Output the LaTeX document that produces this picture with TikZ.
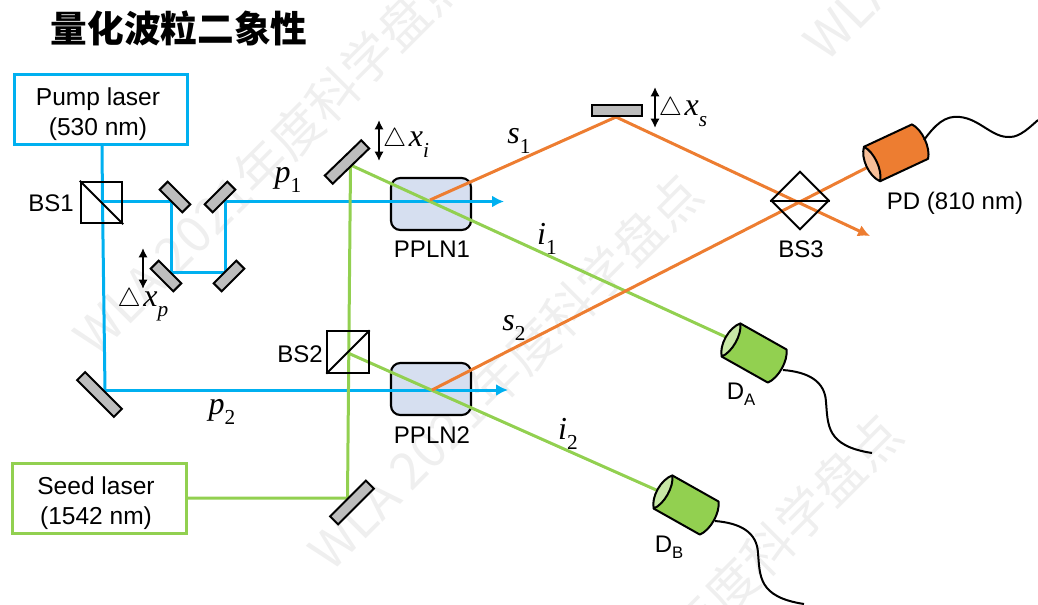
\documentclass[tikz,border=0pt]{standalone}
\usepackage{fontspec}
\usepackage{graphicx}
\setmainfont{Liberation Sans}
\newfontfamily\tnr{Liberation Serif}
\newfontfamily\cjk{Noto Sans CJK SC}
\usetikzlibrary{arrows.meta}
\definecolor{bluebeam}{HTML}{00B0F0}
\definecolor{greenbeam}{HTML}{92D050}
\definecolor{orangebeam}{HTML}{ED7D31}
\definecolor{crystal}{HTML}{D6DFF0}
\definecolor{mirrorgrey}{HTML}{BDBDBD}
\definecolor{wmgrey}{HTML}{EFEFEF}
\definecolor{greenface}{HTML}{C8E8A6}
\definecolor{orangeface}{HTML}{F6BE98}
\newcommand\symbu[2]{{\fontsize{24}{25}\selectfont\tnr\itshape #1\raisebox{-.32em}{\fontsize{16}{16}\selectfont\upshape #2}}}
\newcommand\dsym[2]{{\fontsize{17.28}{20}\selectfont\scalebox{1.13}{$\triangle$}\fontsize{24}{25}\selectfont\kern2pt\tnr\itshape #1\raisebox{-.32em}{\fontsize{16}{16}\selectfont #2}}}
\newcommand\detector[5]{% x,y,angle,fill,face
  \begin{scope}[shift={(#1,#2)},rotate=#3]
    \draw[detline,fill=#4] (0,-19) -- (53,-19) .. controls (60,-10) and (60,10) .. (53,19) -- (0,19) -- cycle;
    \draw[detline,fill=#5] (0,-19) .. controls (-8,-10) and (-8,10) .. (0,19) .. controls (7,10) and (7,-10) .. (0,-19) -- cycle;
  \end{scope}}
\tikzset{
  x=0.75pt,y=-0.75pt,
  blueline/.style={draw=bluebeam,line width=2.25pt},
  greenline/.style={draw=greenbeam,line width=2.25pt},
  orangeline/.style={draw=orangebeam,line width=2.25pt},
  laserbox/.style={draw,line width=2.4pt,minimum width=130pt,minimum height=53pt,inner sep=0pt},
  lasertext/.style={inner sep=0pt,align=center,font=\fontsize{18.4}{22.5}\selectfont},
  bsbox/.style={draw=black,line width=1.5pt,minimum size=31pt,inner sep=0pt},
  crystalbox/.style={draw=black,line width=1.6pt,fill=crystal,rounded corners=7pt,minimum width=60pt,minimum height=39pt,inner sep=0pt},
  mirror/.style={draw=black,line width=1.5pt,fill=mirrorgrey,inner sep=0pt,minimum height=8.5pt},
  lab/.style={inner sep=0pt,font=\fontsize{18}{20}\selectfont},
  mathlab/.style={inner sep=0pt},
  detline/.style={draw=black,line width=1.5pt,line join=round},
  cable/.style={draw=black,line width=1.5pt},
  shift arrow/.style={draw=black,line width=1.5pt,{Latex[length=7pt,width=7pt]}-{Latex[length=7pt,width=7pt]}},
  watermark/.style={text=wmgrey,rotate=45,inner sep=0pt,font=\cjk\fontsize{38}{40}\selectfont},
}
\begin{document}
\begin{tikzpicture}
\useasboundingbox (0,0) rectangle (1038,604);
\begin{scope}
\clip (0,0) rectangle (1038,604);
\node[watermark] (wma) at (270,157) {WLA 2021年度科学盘点};
\node[watermark] (wmb) at (505,372) {WLA 2021年度科学盘点};
\node[watermark] (wmc) at (705,612) {WLA 2021年度科学盘点};
\node[watermark] (wmd) at (1000,-138) {WLA 2021年度科学盘点};
\end{scope}

\node[inner sep=0pt,font=\cjk\bfseries\fontsize{27.5}{30}\selectfont] (title) at (179,28) {量化波粒二象性};

% crystals
\node[crystalbox] (ppln1) at (431,204) {};
\node[crystalbox] (ppln2) at (431,389) {};

% beam points
\coordinate (pumpout) at (102,146);
\coordinate (bs1c) at (102.5,201.5);
\coordinate (m1p) at (171,201.5);
\coordinate (m3p) at (171,272);
\coordinate (m4p) at (225,272);
\coordinate (m2p) at (225,201.5);
\coordinate (p1end) at (504,201.5);
\coordinate (mbp) at (105,390);
\coordinate (p2end) at (508,390);
\coordinate (seedout) at (188,498);
\coordinate (msp) at (347.5,498);
\coordinate (mip) at (350.5,165);
\coordinate (gen1) at (430,200);
\coordinate (gen2) at (432,390);
\coordinate (dain) at (728,338);
\coordinate (bs2c) at (348,353);
\coordinate (dbin) at (663,493);
\coordinate (mtop) at (616,117);
\coordinate (s1end) at (870,236);
\coordinate (pdin) at (870,166);

% blue
\draw[blueline,line join=miter] (pumpout) -- (bs1c) -- (mbp);
\draw[blueline,-{Latex[length=9pt,width=9pt]}] (mbp) -- (p2end);
\draw[blueline,line join=miter,-{Latex[length=9pt,width=9pt]}] (bs1c) -- (m1p) -- (m3p) -- (m4p) -- (m2p) -- (p1end);
% green
\draw[greenline,line join=miter] (seedout) -- (msp) -- (mip) -- (dain);
\draw[greenline] (bs2c) -- (dbin);
% orange
\draw[orangeline] (gen1) -- (mtop);
\draw[orangeline,-{Latex[length=9pt,width=9pt]}] (mtop) -- (s1end);
\draw[orangeline] (gen2) -- (pdin);

% laser boxes
\node[laserbox,draw=bluebeam] (pump) at (101,109.5) {};
\node[lasertext] (pumptext) at (98,114) {Pump laser\\(530 nm)};
\node[laserbox,draw=greenbeam] (seed) at (99.5,498.5) {};
\node[lasertext] (seedtext) at (96,503) {Seed laser\\(1542 nm)};

% beam splitters
\node[bsbox] (bs1) at (101.5,202.5) {};
\draw[line width=1.5pt] (bs1.north west) -- (bs1.south east);
\node[bsbox] (bs2) at (348,352) {};
\draw[line width=1.5pt] (bs2.south west) -- (bs2.north east);
\node[draw=black,line width=1.5pt,minimum size=30.5pt,inner sep=0pt,rotate=45] (bs3) at (800,200.5) {};
\draw[line width=1.5pt] (bs3.north west) -- (bs3.south east);

% mirrors
\node[mirror,rotate=-45,minimum width=24pt] (m1) at (175,197) {};
\node[mirror,rotate=45,minimum width=24pt] (m2) at (220,197) {};
\node[mirror,rotate=-45,minimum width=24pt] (m3) at (166,276) {};
\node[mirror,rotate=45,minimum width=24pt] (m4) at (229,276) {};
\node[mirror,rotate=44,minimum width=38pt] (mi) at (347,162) {};
\node[mirror,rotate=45,minimum width=38pt] (ms) at (352,502.5) {};
\node[mirror,rotate=-45,minimum width=39pt] (mb) at (99.5,394.5) {};
\node[mirror,minimum width=38pt] (mt) at (617,110.5) {};

% shift arrows
\coordinate (dpa) at (143,248);
\coordinate (dpb) at (143,289);
\coordinate (dia) at (379,120);
\coordinate (dib) at (379,161);
\coordinate (dsa) at (655,87);
\coordinate (dsb) at (655,128);
\draw[shift arrow] (dpa) -- (dpb);
\draw[shift arrow] (dia) -- (dib);
\draw[shift arrow] (dsa) -- (dsb);

% detectors
\detector{872}{164}{25}{orangebeam}{orangeface}
\detector{731}{340}{-29.4}{greenbeam}{greenface}
\detector{663}{492}{-29.4}{greenbeam}{greenface}

% cables
\coordinate (pdc) at (924,140);
\coordinate (pdcend) at (1038,120);
\draw[cable] (pdc) .. controls (935,125) and (945,115) .. (960,117)
  .. controls (980,119) and (992,138) .. (1010,137)
  .. controls (1020,137) and (1030,127) .. (pdcend);
\coordinate (dac) at (783,370);
\coordinate (dacend) at (872,453);
\draw[cable] (dac) .. controls (808,372) and (825,381) .. (826,402)
  .. controls (828,425) and (826,446) .. (dacend);
\coordinate (dbc) at (715,521);
\coordinate (dbcend) at (804,604);
\draw[cable] (dbc) .. controls (740,523) and (757,532) .. (758,553)
  .. controls (760,576) and (758,597) .. (dbcend);

% labels
\node[lab] (lbs1) at (51,203) {BS1};
\node[lab] (lbs2) at (300,354) {BS2};
\node[lab] (lbs3) at (801,249) {BS3};
\node[lab] (lp1) at (432,249) {PPLN1};
\node[lab] (lp2) at (432,435) {PPLN2};
\node[lab] (lpd) at (955,203) {PD (810 nm)};
\node[lab] (lda) at (741,394) {D\raisebox{-.25em}{\fontsize{12.5}{13}\selectfont A}};
\node[lab] (ldb) at (669,547) {D\raisebox{-.25em}{\fontsize{12.5}{13}\selectfont B}};
\node[mathlab] (symp1) at (288,180) {\symbu{p}{1}};
\node[mathlab] (symp2) at (222,412) {\symbu{p}{2}};
\node[mathlab] (syms1) at (519,141) {\symbu{s}{1}};
\node[mathlab] (syms2) at (514,328) {\symbu{s}{2}};
\node[mathlab] (symi1) at (547,239) {\symbu{i}{1}};
\node[mathlab] (symi2) at (568,434) {\symbu{i}{2}};
\node[mathlab] (dxp) at (143,305) {\dsym{x}{p}};
\node[mathlab] (dxi) at (406,143) {\dsym{x}{i}};
\node[mathlab] (dxs) at (683,112) {\dsym{x}{s}};
\end{tikzpicture}
\end{document}
